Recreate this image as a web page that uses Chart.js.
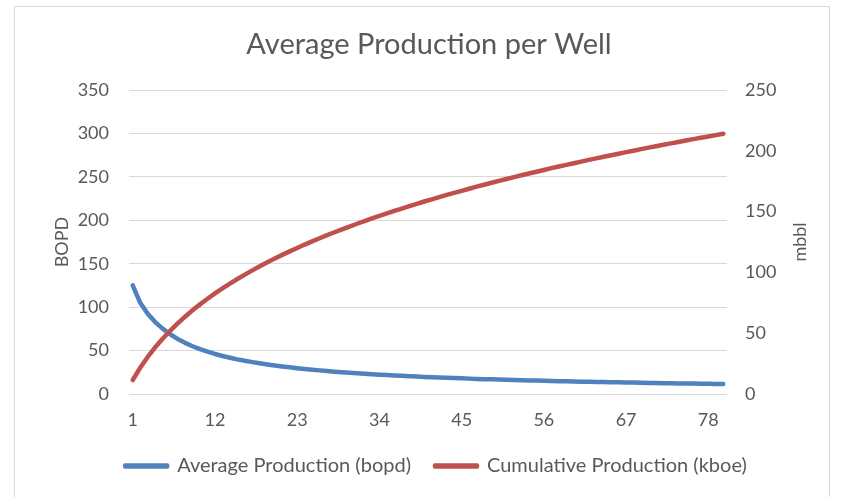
<!DOCTYPE html>
<html>
<head>
<meta charset="utf-8">
<title>Average Production per Well</title>
<script src="https://cdn.jsdelivr.net/npm/chart.js@4.4.1/dist/chart.umd.min.js"></script>
<style>
  html, body { margin: 0; padding: 0; background: #ffffff; }
  #wrap { position: relative; width: 842px; height: 497px; overflow: hidden; }
  #frame { position: absolute; left: 14px; top: 6px; width: 816px; height: 520px;
           border: 1px solid #d9d9d9; box-sizing: border-box; }
  #c { position: absolute; left: 0; top: 0; }
</style>
</head>
<body>
<div id="wrap">
  <div id="frame"></div>
  <canvas id="c" width="842" height="497"></canvas>
</div>
<script>
// Month index along the category axis
const months = [
  1, 2, 3, 4, 5, 6, 7, 8, 9, 10, 11, 12, 13, 14, 15, 16, 17, 18, 19, 20,
  21, 22, 23, 24, 25, 26, 27, 28, 29, 30, 31, 32, 33, 34, 35, 36, 37, 38, 39, 40,
  41, 42, 43, 44, 45, 46, 47, 48, 49, 50, 51, 52, 53, 54, 55, 56, 57, 58, 59, 60,
  61, 62, 63, 64, 65, 66, 67, 68, 69, 70, 71, 72, 73, 74, 75, 76, 77, 78, 79, 80
];

// Only these month labels are printed under the axis
const shownMonths = [1, 12, 23, 34, 45, 56, 67, 78];

// Average Production (bopd) - left axis
const avgProduction = [
  125.0, 105.0, 92.5, 82.8, 75.3, 68.8, 63.4, 58.9, 55.0, 51.7,
  48.7, 46.1, 43.8, 41.8, 39.9, 38.2, 36.7, 35.3, 34.0, 32.8,
  31.7, 30.7, 29.7, 28.8, 28.0, 27.2, 26.4, 25.7, 25.1, 24.5,
  23.9, 23.3, 22.8, 22.3, 21.8, 21.3, 20.9, 20.5, 20.1, 19.7,
  19.3, 19.0, 18.7, 18.3, 18.0, 17.7, 17.4, 17.1, 16.9, 16.6,
  16.4, 16.1, 15.9, 15.6, 15.4, 15.2, 15.0, 14.8, 14.6, 14.4,
  14.2, 14.0, 13.9, 13.7, 13.5, 13.4, 13.2, 13.1, 12.9, 12.8,
  12.6, 12.5, 12.3, 12.2, 12.1, 12.0, 11.8, 11.7, 11.6, 11.5
];

// Cumulative Production (kboe) - right axis
const cumProduction = [
  11.5, 21.6, 30.5, 38.4, 45.5, 52.0, 58.0, 63.6, 68.8, 73.7,
  78.3, 82.7, 86.9, 90.8, 94.6, 98.2, 101.7, 105.1, 108.3, 111.4,
  114.4, 117.3, 120.1, 122.9, 125.5, 128.1, 130.6, 133.0, 135.4, 137.7,
  140.0, 142.2, 144.4, 146.5, 148.5, 150.6, 152.5, 154.5, 156.4, 158.3,
  160.1, 161.9, 163.7, 165.4, 167.1, 168.8, 170.5, 172.1, 173.7, 175.3,
  176.8, 178.4, 179.9, 181.3, 182.8, 184.2, 185.7, 187.1, 188.4, 189.8,
  191.1, 192.5, 193.8, 195.1, 196.4, 197.6, 198.9, 200.1, 201.4, 202.6,
  203.8, 205.0, 206.1, 207.3, 208.4, 209.6, 210.7, 211.8, 212.9, 214.0
];

const TEXT = '#595959';
const GRID = '#d9d9d9';
const BLUE = '#4f81bd';
const RED = '#c0504d';
const FONT = "Lato, 'Open Sans', 'Liberation Sans', sans-serif";

Chart.defaults.font.family = FONT;
Chart.defaults.color = TEXT;

// Secondary axis title, rotated the same way as the primary one
const rightAxisTitle = {
  id: 'rightAxisTitle',
  afterDraw(chart, args, opts) {
    const s = chart.scales.yRight;
    const area = chart.chartArea;
    const ctx = chart.ctx;
    ctx.save();
    ctx.translate(s.right - opts.offset, (area.top + area.bottom) / 2);
    ctx.rotate(-Math.PI / 2);
    ctx.font = opts.size + 'px ' + FONT;
    ctx.fillStyle = TEXT;
    ctx.textAlign = 'center';
    ctx.textBaseline = 'middle';
    ctx.fillText(opts.text, 0, 0);
    ctx.restore();
  }
};

// Centre the legend row under the plot area rather than the whole canvas
const legendShift = {
  id: 'legendShift',
  afterLayout(chart, args, opts) {
    if (chart.legend) {
      chart.legend.left += opts.dx;
      chart.legend.right += opts.dx;
    }
  }
};

const defaultLegendLabels = Chart.defaults.plugins.legend.labels.generateLabels;

new Chart(document.getElementById('c'), {
  type: 'line',
  plugins: [rightAxisTitle, legendShift],
  data: {
    labels: months,
    datasets: [
      {
        label: 'Average Production (bopd)',
        data: avgProduction,
        yAxisID: 'yLeft',
        borderColor: BLUE,
        backgroundColor: BLUE,
        borderWidth: 4.5,
        borderCapStyle: 'round',
        borderJoinStyle: 'round',
        pointRadius: 0,
        tension: 0,
        order: 1
      },
      {
        label: 'Cumulative Production (kboe)',
        data: cumProduction,
        yAxisID: 'yRight',
        borderColor: RED,
        backgroundColor: RED,
        borderWidth: 4.5,
        borderCapStyle: 'round',
        borderJoinStyle: 'round',
        pointRadius: 0,
        tension: 0,
        order: 0
      }
    ]
  },
  options: {
    responsive: false,
    animation: false,
    layout: { padding: { left: 16, right: 0, top: 0, bottom: 11 } },
    plugins: {
      title: {
        display: true,
        text: 'Average Production per Well',
        color: TEXT,
        font: { size: 29, weight: 'normal' },
        padding: { top: 27.6, bottom: 27.6 }
      },
      legend: {
        position: 'bottom',
        labels: {
          color: TEXT,
          font: { size: 20 },
          boxWidth: 42,
          boxHeight: 1,
          padding: 24,
          sort: (a, b) => a.datasetIndex - b.datasetIndex,
          // wider gap after the first entry
          generateLabels: (chart) => defaultLegendLabels(chart).map((item, i, all) =>
            i < all.length - 1 ? Object.assign(item, { text: item.text + '\u2002' }) : item)
        }
      },
      tooltip: { enabled: false },
      rightAxisTitle: { text: 'mbbl', size: 18, offset: 42 },
      legendShift: { dx: 12 }
    },
    scales: {
      x: {
        type: 'category',
        offset: true,
        grid: { display: false, drawTicks: false },
        border: { display: false },
        ticks: {
          autoSkip: false,
          maxRotation: 0,
          minRotation: 0,
          padding: 15,
          font: { size: 18 },
          color: TEXT,
          callback: (value, index) => shownMonths.includes(months[index]) ? String(months[index]) : ''
        },
        afterFit: (scale) => { scale.height = 38; }
      },
      yLeft: {
        position: 'left',
        min: 0,
        max: 350,
        ticks: { stepSize: 50, padding: 20, font: { size: 18 }, color: TEXT },
        grid: { color: GRID, lineWidth: 1, drawTicks: false },
        border: { display: false },
        title: {
          display: true,
          text: 'BOPD',
          color: TEXT,
          font: { size: 18 },
          padding: { top: 35, bottom: 0 }
        },
        afterFit: (scale) => { scale.width = 113; }
      },
      yRight: {
        position: 'right',
        min: 0,
        max: 250,
        ticks: { stepSize: 50, padding: 18, font: { size: 18 }, color: TEXT },
        grid: { drawOnChartArea: false, drawTicks: false },
        border: { display: false },
        afterFit: (scale) => { scale.width = 115; }
      }
    }
  }
});
</script>
</body>
</html>
